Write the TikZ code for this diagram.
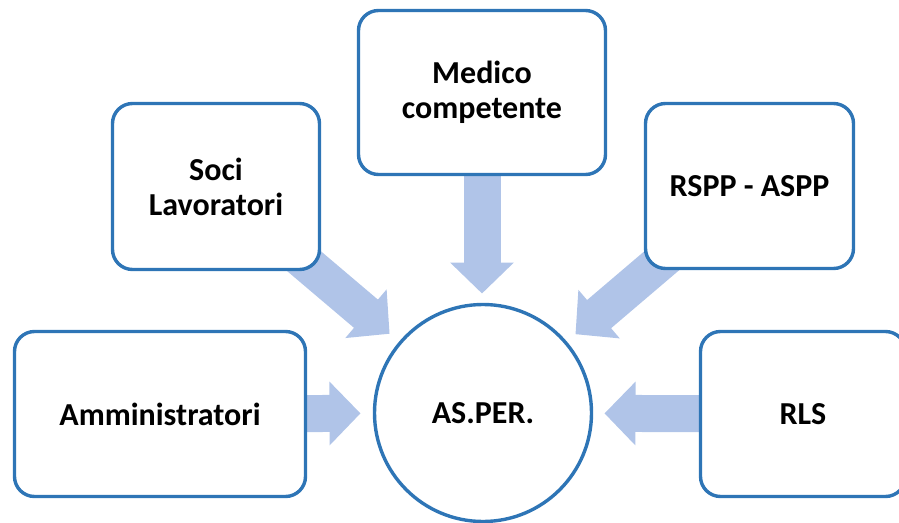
\documentclass[tikz,border=0pt]{standalone}
\usepackage{fontspec}
\setmainfont{Carlito}
\usetikzlibrary{arrows.meta,backgrounds}
\definecolor{boxblue}{HTML}{2E75B6}
\definecolor{arrowblue}{HTML}{B0C4E8}
\begin{document}
\begin{tikzpicture}[x=1pt,y=-1pt,
  lab/.style={font=\fontsize{32}{35}\selectfont\bfseries, align=center, text=black},
  rbox/.style={lab, draw=boxblue, line width=3.4pt, fill=white, rounded corners=20pt, rectangle, outer sep=0pt, inner sep=0pt},
  rcirc/.style={lab, draw=boxblue, line width=3.4pt, fill=white, circle, outer sep=0pt, inner sep=0pt, minimum size=217pt},
  bigarrow/.style={draw=arrowblue, line width=37pt, -{Triangle[length=31pt,width=62pt]}}
]
\useasboundingbox (0,0) rectangle (899,522);
\node[rcirc] (asper) at (483,413) {AS.PER.};
\node[rbox, minimum width=291pt, minimum height=165pt] (amm) at (160,414) {Amministratori};
\node[rbox, minimum width=207pt, minimum height=166pt] (soci) at (216,186.5) {Soci\\Lavoratori};
\node[rbox, minimum width=247pt, minimum height=164pt] (med) at (482,92.5) {Medico\\competente};
\node[rbox, minimum width=208pt, minimum height=165pt] (rspp) at (749.5,186) {RSPP - ASPP};
\node[rbox, minimum width=205pt, minimum height=165pt] (rls) at (803,414) {RLS};
\begin{scope}[on background layer]
  \draw[bigarrow, shorten >=14pt] (amm.center) -- (asper);
  \draw[bigarrow, shorten >=14pt] (soci.center) -- (asper);
  \draw[bigarrow, shorten >=11pt] (med.center) -- (med.center |- asper.north);
  \draw[bigarrow, shorten >=13pt] (rspp.center) -- (asper);
  \draw[bigarrow, shorten >=13pt] (rls.center) -- (asper);
\end{scope}
\end{tikzpicture}
\end{document}
